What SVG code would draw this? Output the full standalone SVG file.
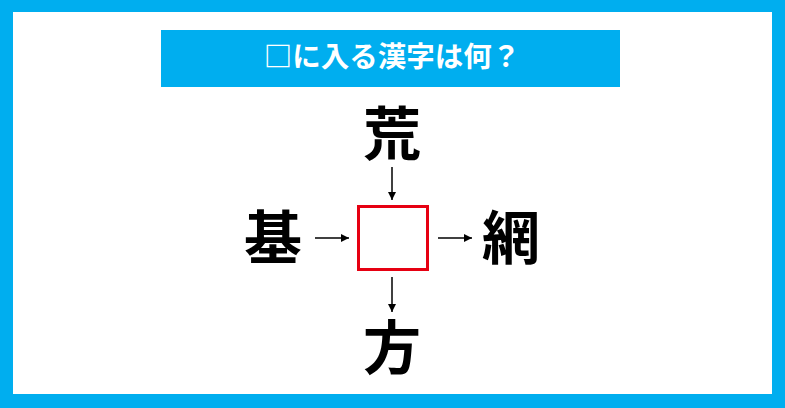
<svg xmlns="http://www.w3.org/2000/svg" width="785" height="408" viewBox="0 0 785 408">
<defs>
<style>
.k{font-family:"Noto Sans CJK JP","Noto Sans CJK SC",sans-serif;font-weight:bold;font-size:58px;fill:#000;text-anchor:middle}
.t{font-family:"Noto Sans CJK JP","Noto Sans CJK SC",sans-serif;font-weight:bold;font-size:28.5px;fill:#fff;text-anchor:middle}
.c{stroke:#000;stroke-width:1.5;fill:none;marker-end:url(#ah)}
</style>
<marker id="ah" viewBox="0 0 10 10" refX="10" refY="5" markerWidth="8" markerHeight="8" markerUnits="userSpaceOnUse" orient="auto">
<path d="M0,0 L10,5 L0,10 z" fill="#000"/>
</marker>
</defs>
<rect x="0" y="0" width="785" height="408" fill="#00AEEF"/>
<rect x="13" y="12" width="759" height="382" fill="#fff"/>
<g id="title">
<rect x="161" y="30" width="459" height="57" fill="#00AEEF"/>
<text class="t" x="392" y="67">□に入る漢字は何？</text>
</g>
<g id="top"><text class="k" x="392" y="155">荒</text></g>
<g id="left"><text class="k" x="273" y="259">基</text></g>
<g id="right"><text class="k" x="511" y="259">網</text></g>
<g id="bottom"><text class="k" x="392" y="369">方</text></g>
<g id="center"><rect x="358.5" y="206.5" width="69" height="63" fill="#fff" stroke="#E60012" stroke-width="3"/></g>
<g id="connectors">
<line class="c" x1="392" y1="167" x2="392" y2="200"/>
<line class="c" x1="392" y1="277" x2="392" y2="312"/>
<line class="c" x1="315" y1="238" x2="349" y2="238"/>
<line class="c" x1="438" y1="238" x2="472" y2="238"/>
</g>
</svg>
